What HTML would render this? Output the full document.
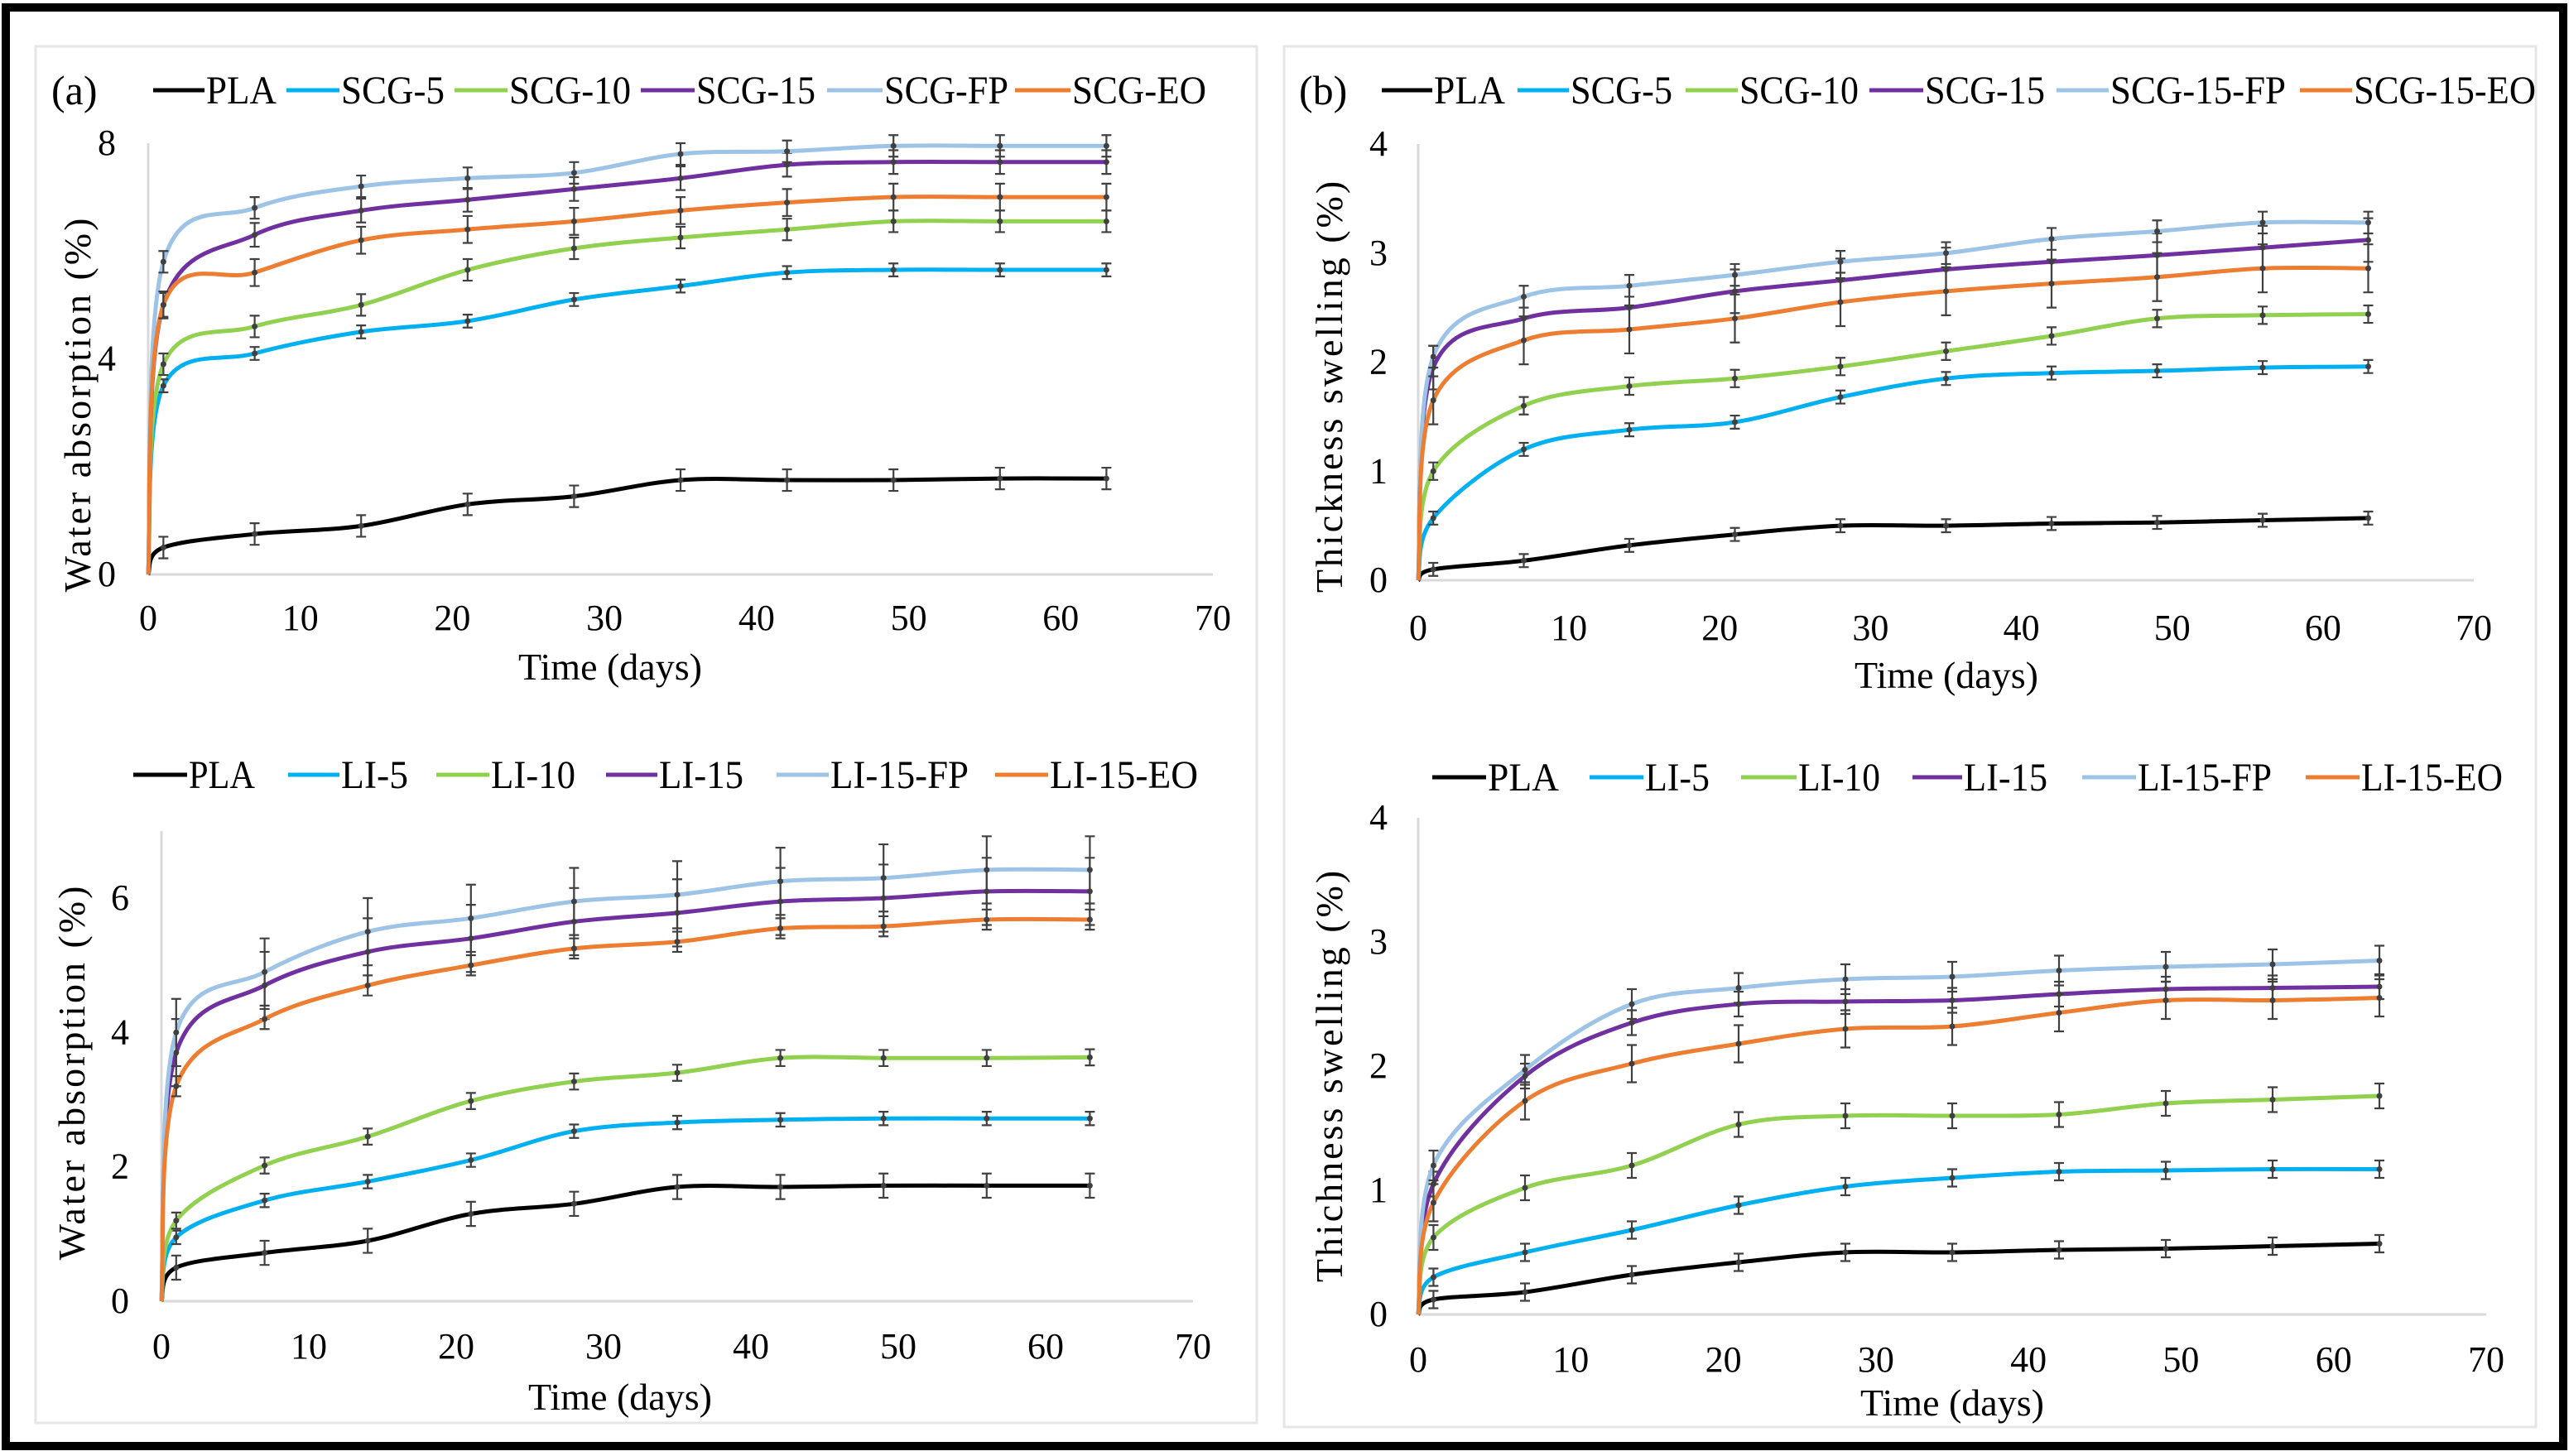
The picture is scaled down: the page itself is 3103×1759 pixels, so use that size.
<!DOCTYPE html>
<html><head><meta charset="utf-8"><style>
html,body{margin:0;padding:0;background:#fff}
svg{display:block}
text{font-family:"Liberation Serif","DejaVu Serif",serif;fill:#000}
</style></head><body>
<svg id="fig" width="3103" height="1759" viewBox="0 0 3103 1759" xmlns="http://www.w3.org/2000/svg" font-family="Liberation Serif, serif">
<rect x="7" y="9" width="3089" height="1738" fill="none" stroke="#000" stroke-width="10"/>
<rect x="43" y="56" width="1475" height="1663" fill="none" stroke="#e6e6e6" stroke-width="3"/>
<rect x="1551" y="56" width="1512" height="1668" fill="none" stroke="#e6e6e6" stroke-width="3"/>
<text x="62" y="126" font-size="50" font-family="Liberation Serif, serif">(a)</text>
<text x="1569" y="126" font-size="50" font-family="Liberation Serif, serif">(b)</text>
</svg>
<script>
const days=[0,1,7,14,21,28,35,42,49,56,63];
const colors=['#000000','#00B0F0','#92D050','#7030A0','#9DC3E6','#ED7D31'];
// Panel (a) water absorption SCG
const namesA=['PLA','SCG-5','SCG-10','SCG-15','SCG-FP','SCG-EO'];
const aPLA=[0,0.5,0.75,0.9,1.3,1.45,1.75,1.75,1.75,1.78,1.78];
const aS5=[0,3.5,4.1,4.5,4.7,5.1,5.35,5.6,5.65,5.65,5.65];
const aS10=[0,3.9,4.6,5.0,5.65,6.05,6.25,6.4,6.55,6.55,6.55];
const aS15=[0,5.0,6.3,6.75,6.95,7.15,7.35,7.6,7.65,7.65,7.65];
const aFP=[0,5.8,6.8,7.2,7.35,7.45,7.8,7.85,7.95,7.95,7.95];
const aEO=[0,5.0,5.6,6.2,6.4,6.55,6.75,6.9,7.0,7.0,7.0];
const aErr=[0.2,0.12,0.2,0.22,0.2,0.25];
const ticksA=[0,4,8];
// Panel (b) thickness swelling SCG
const namesB=['PLA','SCG-5','SCG-10','SCG-15','SCG-15-FP','SCG-15-EO'];
const bPLA=[0,0.1,0.18,0.32,0.42,0.5,0.5,0.52,0.53,0.55,0.57];
const bS5=[0,0.57,1.2,1.38,1.45,1.68,1.85,1.9,1.92,1.95,1.96];
const bS10=[0,1.0,1.6,1.78,1.85,1.96,2.1,2.24,2.4,2.43,2.44];
const bS15=[0,1.95,2.4,2.5,2.65,2.75,2.85,2.92,2.98,3.05,3.12];
const bFP=[0,2.05,2.6,2.7,2.8,2.92,3.0,3.13,3.2,3.28,3.28];
const bEO=[0,1.65,2.2,2.3,2.4,2.55,2.65,2.72,2.78,2.86,2.86];
const bErr=[0.06,0.06,0.08,0.2,0.1,0.22];
const ticksB=[0,1,2,3,4];
// Panel (c) water absorption LI
const namesC=['PLA','LI-5','LI-10','LI-15','LI-15-FP','LI-15-EO'];
const cPLA=[0,0.5,0.72,0.9,1.3,1.45,1.7,1.7,1.72,1.72,1.72];
const cL5=[0,0.95,1.5,1.78,2.1,2.53,2.66,2.7,2.72,2.72,2.72];
const cL10=[0,1.2,2.02,2.45,2.98,3.27,3.4,3.62,3.62,3.62,3.63];
const cL15=[0,3.7,4.7,5.2,5.4,5.65,5.78,5.95,6.0,6.1,6.1];
const cFP=[0,4.0,4.9,5.5,5.7,5.95,6.05,6.25,6.3,6.42,6.42];
const cEO=[0,3.2,4.2,4.7,5.0,5.25,5.35,5.55,5.58,5.68,5.68];
const cErr=[0.18,0.1,0.12,0.5,0.5,0.15];
const ticksC=[0,2,4,6];
// Panel (d) thickness swelling LI
const namesD=['PLA','LI-5','LI-10','LI-15','LI-15-FP','LI-15-EO'];
const dPLA=[0,0.12,0.18,0.32,0.42,0.5,0.5,0.52,0.53,0.55,0.57];
const dL5=[0,0.3,0.5,0.68,0.88,1.03,1.1,1.15,1.16,1.17,1.17];
const dL10=[0,0.62,1.02,1.2,1.53,1.6,1.6,1.61,1.7,1.73,1.76];
const dL15=[0,1.05,1.92,2.35,2.5,2.52,2.53,2.58,2.62,2.63,2.64];
const dFP=[0,1.2,1.97,2.5,2.63,2.7,2.72,2.77,2.8,2.82,2.85];
const dEO=[0,0.9,1.72,2.02,2.18,2.3,2.32,2.43,2.53,2.53,2.55];
const dErr=[0.07,0.07,0.1,0.1,0.12,0.15];
const xTicks=[0,10,20,30,40,50,60,70];

const NS='http://www.w3.org/2000/svg';
const svg=document.getElementById('fig');
const FF='Liberation Serif, serif';
function mk(tag,attrs,parent,txt){const e=document.createElementNS(NS,tag);for(const k in attrs)e.setAttribute(k,attrs[k]);if(tag==='text')e.setAttribute('font-family',FF);if(txt!==undefined)e.textContent=txt;(parent||svg).appendChild(e);return e;}

function smoothPath(pts){
  let d='M'+pts[0][0].toFixed(1)+','+pts[0][1].toFixed(1);
  for(let i=0;i<pts.length-1;i++){
    const p0=pts[Math.max(0,i-1)],p1=pts[i],p2=pts[i+1],p3=pts[Math.min(pts.length-1,i+2)];
    const t=0.17;
    const c1=[p1[0]+(p2[0]-p0[0])*t,p1[1]+(p2[1]-p0[1])*t];
    const c2=[p2[0]-(p3[0]-p1[0])*t,p2[1]-(p3[1]-p1[1])*t];
    d+=' C'+c1[0].toFixed(1)+','+c1[1].toFixed(1)+' '+c2[0].toFixed(1)+','+c2[1].toFixed(1)+' '+p2[0].toFixed(1)+','+p2[1].toFixed(1);
  }
  return d;
}

function panel(cfg){
  const g=mk('g',{});
  
  
  const X=v=>cfg.x0+(cfg.x70-cfg.x0)*v/70;
  const Y=v=>cfg.y0-(cfg.y0-cfg.yTop)*v/cfg.yMax;
  const topY=Y(cfg.axisMax);
  const ya=mk('line',{x1:cfg.x0,y1:cfg.y0,x2:cfg.x0,y2:topY,stroke:'#d9d9d9','stroke-width':3},g);
  
  
  const xa=mk('line',{x1:cfg.x0,y1:cfg.y0,x2:X(70),y2:cfg.y0,stroke:'#d9d9d9','stroke-width':3},g);
  
  
  cfg.yTicks.forEach(v=>{
    const t=mk('text',{x:cfg.ytx,y:Y(v)+14,'font-size':44,'text-anchor':'end'},g,String(v));
    
    
  });
  xTicks.forEach(v=>{
    const t=mk('text',{x:X(v),y:cfg.xty+15,'font-size':44,'text-anchor':'middle'},g,String(v));
    
    
  });
  const xt=mk('text',{x:cfg.xtitle[0],y:cfg.xtitle[1]+15,'font-size':46,'text-anchor':'middle'},g,'Time (days)');
  
  
  const yt=mk('text',{x:0,y:0,'font-size':46,'text-anchor':'middle','letter-spacing':'3',transform:'translate('+(cfg.ytitle[0]+15)+','+cfg.ytitle[1]+') rotate(-90)'},g,cfg.ylabel);
  
  
  cfg.series.forEach((s,si)=>{
    const sg=mk('g',{},g);
    
    
    const pts=days.map((d,i)=>[X(d),Y(s[i])]);
    const p=mk('path',{d:smoothPath(pts),fill:'none',stroke:colors[si],'stroke-width':5,'stroke-linejoin':'round'},sg);
    
    
    days.forEach((d,i)=>{
      if(i===0)return;
      const e=cfg.err[si];
      const x=X(d),y1=Y(s[i]+e),y2=Y(s[i]-e);
      const eb=mk('path',{d:'M'+x+','+y1+'V'+y2+'M'+(x-6)+','+y1+'H'+(x+6)+'M'+(x-6)+','+y2+'H'+(x+6),stroke:'#404040','stroke-width':2.2,fill:'none'},sg);
      
      
      const c=mk('circle',{cx:x,cy:Y(s[i]),r:3.5,fill:'#404040'},sg);
      
      
    });
  });
  const lg=mk('g',{},g);
  
  
  cfg.names.forEach((n,i)=>{
    const eg=mk('g',{},lg);
    
    
    const L=cfg.leg[i];
    mk('line',{x1:L[0],x2:L[1],y1:cfg.legY,y2:cfg.legY,stroke:colors[i],'stroke-width':5},eg);
    mk('text',{x:L[1]+2,y:cfg.legY+16,'font-size':48,textLength:L[2]-L[1]-4,lengthAdjust:'spacingAndGlyphs'},eg,n);
  });
}

panel({id:'chart-a',names:namesA,series:[aPLA,aS5,aS10,aS15,aFP,aEO],err:aErr,yTicks:ticksA,yMax:8,axisMax:8,
  x0:179,x70:1465,y0:694,yTop:173,ytx:140,xty:746,xtitle:[737,806],ytitle:[94,488],ylabel:'Water absorption (%)',
  legY:109,leg:[[185,247,336],[346,410,539],[549,613,764],[774,839,987],[999,1066,1220],[1226,1293,1459]]});
panel({id:'chart-b',names:namesB,series:[bPLA,bS5,bS10,bS15,bFP,bEO],err:bErr,yTicks:ticksB,yMax:4,axisMax:4,
  x0:1713,x70:2988,y0:701,yTop:174,ytx:1676,xty:758,xtitle:[2351,816],ytitle:[1606,466],ylabel:'Thickness swelling  (%)',
  legY:109,leg:[[1669,1730,1820],[1833,1895,2022],[2036,2099,2247],[2258,2323,2472],[2484,2547,2763],[2778,2841,3065]]});
panel({id:'chart-c',names:namesC,series:[cPLA,cL5,cL10,cL15,cFP,cEO],err:cErr,yTicks:ticksC,yMax:6,axisMax:7,
  x0:195,x70:1441,y0:1572,yTop:1085,ytx:156,xty:1626,xtitle:[749,1688],ytitle:[87,1295],ylabel:'Water absorption (%)',
  legY:936,leg:[[161,226,310],[348,410,495],[527,591,697],[732,794,900],[938,1001,1172],[1202,1266,1449]]});
panel({id:'chart-d',names:namesD,series:[dPLA,dL5,dL10,dL15,dFP,dEO],err:dErr,yTicks:ticksB,yMax:4,axisMax:4,
  x0:1713,x70:3003,y0:1588,yTop:988,ytx:1676,xty:1642,xtitle:[2358,1695],ytitle:[1606,1299],ylabel:'Thichness swelling  (%)',
  legY:939,leg:[[1730,1795,1885],[1920,1985,2067],[2103,2170,2273],[2310,2370,2475],[2515,2580,2746],[2785,2850,3025]]});
</script>
</body></html>
